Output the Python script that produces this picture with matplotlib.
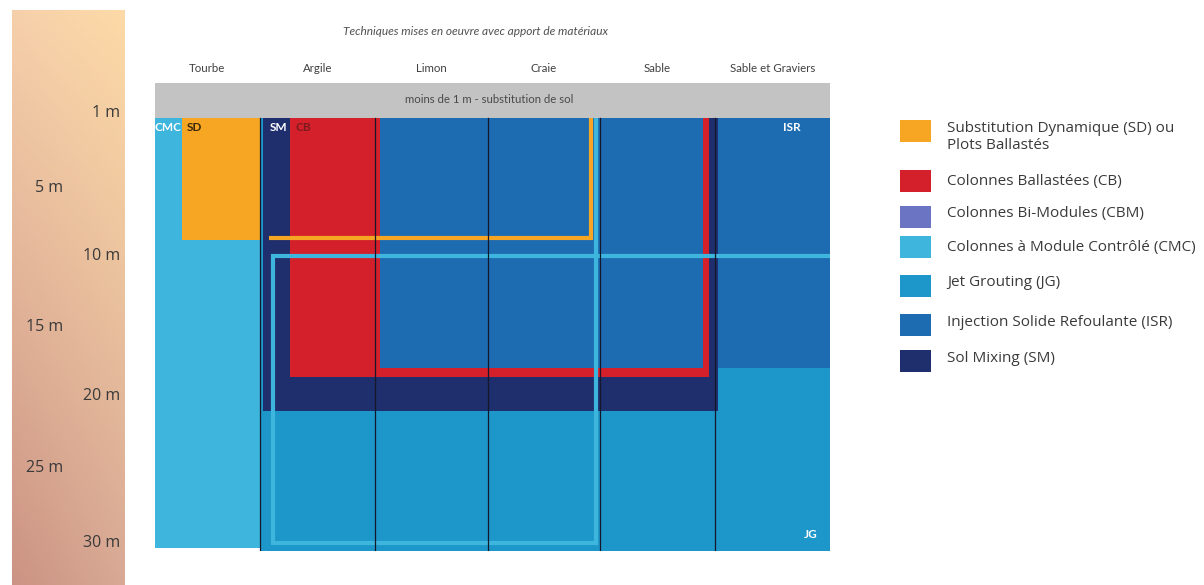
import numpy as np
import matplotlib
matplotlib.use("Agg")
import matplotlib.pyplot as plt
from matplotlib.patches import Rectangle
import matplotlib.transforms as mtransforms

# ---------------- data ----------------
title = "Techniques mises en oeuvre avec apport de matériaux"
band_text = "moins de 1 m - substitution de sol"
soils = ["Tourbe", "Argile", "Limon", "Craie", "Sable", "Sable et Graviers"]
soil_edges = [0.0, 0.933, 1.956, 2.96, 3.956, 4.978, 6.0]   # column boundaries (column units)

depth_ticks = [1, 5, 10, 15, 20, 25, 30]
depth_labels = ["1 m", "5 m", "10 m", "15 m", "20 m", "25 m", "30 m"]

codes = ["SD", "CB", "CBM", "CMC", "JG", "ISR", "SM"]
legend_labels = ["Substitution Dynamique (SD) ou\nPlots Ballastés",
                 "Colonnes Ballastées (CB)",
                 "Colonnes Bi-Modules (CBM)",
                 "Colonnes à Module Contrôlé (CMC)",
                 "Jet Grouting (JG)",
                 "Injection Solide Refoulante (ISR)",
                 "Sol Mixing (SM)"]
tech_colors = ["#f6a623", "#d3202b", "#6b74c2", "#3db5dd", "#1d96c9", "#1d6cb2", "#1f2e6c"]

# filled domains: technique, x-from, x-to (column units), depth from, depth to (m)
fill_tech = ["JG", "CMC", "SD", "SM", "CB", "ISR", "ISR"]
fill_x0 = [0.933, 0.0, 0.24, 0.96, 1.20, 2.00, 5.00]
fill_x1 = [6.0, 0.933, 0.933, 5.00, 4.92, 4.87, 6.0]
fill_d0 = [1.0, 1.0, 1.0, 1.0, 1.0, 1.0, 1.0]
fill_d1 = [30.2, 30.0, 9.23, 20.76, 18.46, 17.86, 17.86]

# extension outlines: technique, list of (x, depth) vertices
outline_tech = ["SD", "CMC", "CMC"]
outline_x = [[1.01, 3.876, 3.876],
             [6.0, 1.049, 1.049, 3.924, 3.924],
             [3.924, 3.924]]
outline_d = [[9.09, 9.09, 1.0],
             [10.34, 10.34, 29.69, 29.69, 10.34],
             [10.34, 1.0]]

# labels inside the chart
tag_text = ["CMC", "SD", "SM", "CB", "ISR", "JG"]
tag_x = [0.115, 0.355, 1.10, 1.316, 5.66, 5.83]
tag_d = [1.67, 1.67, 1.67, 1.67, 1.67, 29.1]
tag_col = ["white", "#3b2a0c", "white", "#7d1a1d", "white", "white"]

color_of = dict(zip(codes, tech_colors))

# ---------------- figure ----------------
W, H = 1204, 585
fig = plt.figure(figsize=(W / 100, H / 100), dpi=100)
fig.patch.set_facecolor("white")

def fig_rect(x0, y0, x1, y1):
    return [x0 / W, 1 - y1 / H, (x1 - x0) / W, (y1 - y0) / H]

narrow = ["Lato", "DejaVu Sans"]
body = ["Open Sans", "DejaVu Sans"]

# depth gradient bar
axg = fig.add_axes(fig_rect(12, 10, 125, 585))
tl = np.array([0xf6, 0xd0, 0xab]) / 255
tr = np.array([0xfd, 0xda, 0xa7]) / 255
bl = np.array([0xcb, 0x93, 0x83]) / 255
br = np.array([0xd8, 0xa9, 0x95]) / 255
t = np.linspace(0, 1, 200)[:, None, None]
s = np.linspace(0, 1, 60)[None, :, None]
grad = (1 - t) * ((1 - s) * tl + s * tr) + t * ((1 - s) * bl + s * br)
axg.imshow(grad, aspect="auto", interpolation="bilinear")
axg.axis("off")

# main diagram axes
ax = fig.add_axes(fig_rect(155, 83, 830, 551))
ax.set_xlim(0, 6)
ax.set_ylim(30.2, -1.36)
ax.axis("off")

# grey band
ax.add_patch(Rectangle((0, -1.36), 6, 2.33, facecolor="#c3c3c3", edgecolor="none", zorder=1))
ax.text(2.97, -0.28, band_text, ha="center", va="center", fontsize=8.2,
        color="#4a4a4a", family=narrow, zorder=5)

# fills
for tech, x0, x1, d0, d1 in zip(fill_tech, fill_x0, fill_x1, fill_d0, fill_d1):
    ax.add_patch(Rectangle((x0, d0), x1 - x0, d1 - d0, facecolor=color_of[tech],
                           edgecolor="none", zorder=2))

# outlines
for tech, xs, ds in zip(outline_tech, outline_x, outline_d):
    ax.plot(xs, ds, color=color_of[tech], lw=3.0, solid_joinstyle="miter",
            solid_capstyle="butt", zorder=3)

# column separators
for e in soil_edges[1:-1]:
    ax.plot([e, e], [1.0, 30.2], color="#15182a", lw=0.9, zorder=4)

# soil labels
for i, name in enumerate(soils):
    cx = (soil_edges[i] + soil_edges[i + 1]) / 2
    ax.text(cx, -2.37, name, ha="center", va="center", fontsize=8.3,
            color="#404040", family=narrow, clip_on=False)

ax.text(2.85, -4.8, title, ha="center", va="center", fontsize=8.6, style="italic",
        color="#505050", family=narrow, clip_on=False)

# tags
for txt, x, d, c in zip(tag_text, tag_x, tag_d, tag_col):
    ax.text(x, d, txt, ha="center", va="center", fontsize=8.5, fontweight="bold",
            color=c, family=narrow, zorder=6)

# depth labels (hand-placed nudges, in pixels, as in the original artwork)
label_nudge_px = [1, -15, -9, -6, -1, 1, 1]
btrans = mtransforms.blended_transform_factory(fig.transFigure, ax.transData)
for i, (d, lab) in enumerate(zip(depth_ticks, depth_labels)):
    xr = 120 if i % 2 == 0 else 63
    tr_i = btrans + mtransforms.ScaledTranslation(0, label_nudge_px[i] / 100, fig.dpi_scale_trans)
    ax.text(xr / W, d - 0.3, lab, transform=tr_i, ha="right", va="center",
            fontsize=11.5, color="#3a3a3a", family=body, clip_on=False)

# legend (drawn manually)
leg_y = [130.5, 181, 217, 247, 286, 325, 361]
txt_y = [137, 182, 213, 247, 283, 322, 358]
axl = fig.add_axes([0, 0, 1, 1], facecolor="none")
axl.set_xlim(0, W)
axl.set_ylim(H, 0)
axl.axis("off")
for c, lab, yc, yt in zip(tech_colors, legend_labels, leg_y, txt_y):
    axl.add_patch(Rectangle((900, yc - 11), 31, 22, facecolor=c, edgecolor="none"))
    axl.text(947, yt, lab, ha="left", va="center", fontsize=11, color="#3a3a3a",
             family=body, linespacing=1.25)

fig.savefig("out.png", dpi=100)
